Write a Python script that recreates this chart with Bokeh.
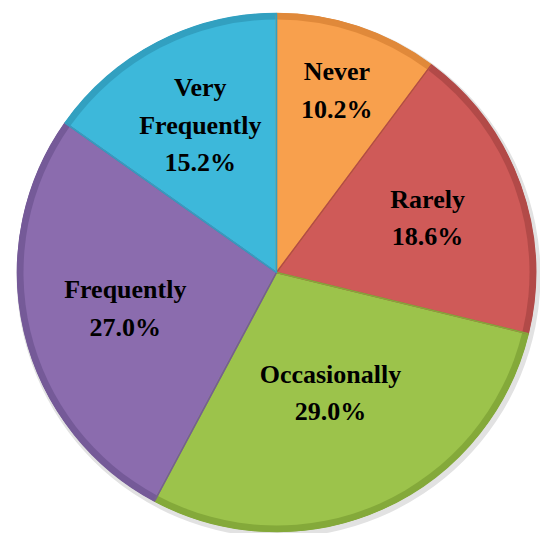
import numpy as np
from bokeh.plotting import figure
from bokeh.models import ColumnDataSource, Range1d
from bokeh.core.properties import value
from bokeh.embed import file_html
from bokeh.resources import INLINE

categories = ["Never", "Rarely", "Occasionally", "Frequently", "Very\nFrequently"]
percents = [10.2, 18.6, 29.0, 27.0, 15.2]
colors = ["#F8A04D", "#CF5A58", "#9CC34B", "#8B6CAE", "#3DB8DA"]
rims = ["#E0893A", "#B24A48", "#84A93A", "#755A98", "#32A0C0"]
label_r = [0.74, 0.62, 0.51, 0.60, 0.64]

W, H = 540, 533
cx, cy, R = 276, 261, 259

p = figure(width=W, height=H, output_backend="svg", toolbar_location=None,
           x_range=Range1d(0, W), y_range=Range1d(0, H), min_border=0)
p.axis.visible = False
p.grid.visible = False
p.outline_line_color = None
p.background_fill_color = "white"

fr = np.array(percents) / 100.0
cum = np.concatenate([[0], np.cumsum(fr)])
# clockwise from 12 o'clock
starts = np.pi / 2 - 2 * np.pi * cum[1:]
ends = np.pi / 2 - 2 * np.pi * cum[:-1]
mids = (starts + ends) / 2

src = ColumnDataSource(dict(start=starts, end=ends, color=colors, rim=rims))

# soft shadow
p.circle(x=[cx + 2], y=[cy - 3], radius=R + 3, fill_color="#E2E2E2", line_color=None)
p.wedge(x=cx, y=cy, radius=R, start_angle="start", end_angle="end", source=src,
        fill_color="rim", line_color="rim", line_width=1)
p.wedge(x=cx, y=cy, radius=R - 6, start_angle="start", end_angle="end", source=src,
        fill_color="color", line_color=None)
# separators
p.wedge(x=cx, y=cy, radius=R, start_angle="start", end_angle="end", source=src,
        fill_color=None, line_color="rim", line_width=1.5)

texts = [f"{c}\n{v:.1f}%" for c, v in zip(categories, percents)]
lx = [cx + R * f * np.cos(m) for f, m in zip(label_r, mids)]
ly = [cy + R * f * np.sin(m) for f, m in zip(label_r, mids)]
p.text(x=lx, y=ly, text=texts, text_align="center", text_baseline="middle",
       text_font=value("Liberation Serif"), text_font_style="bold",
       text_font_size="26px", text_line_height=1.3, text_color="#000000")

open("out.html", "w").write(file_html(p, INLINE))
